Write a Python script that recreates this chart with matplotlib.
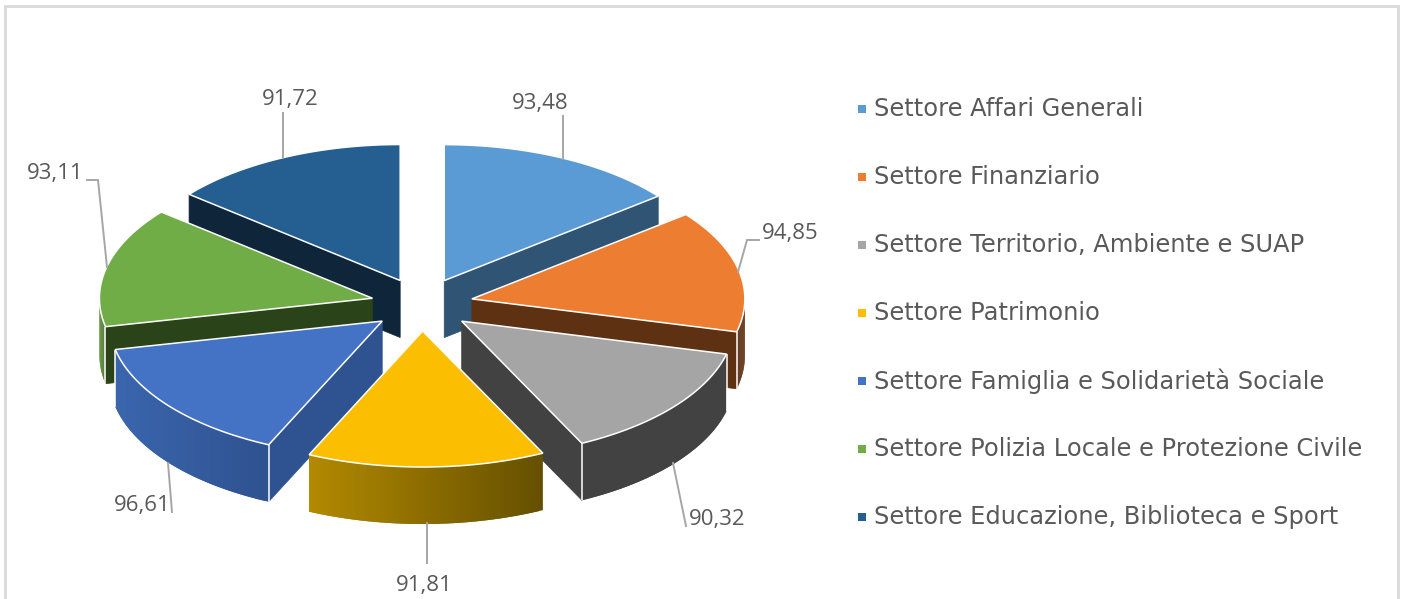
import numpy as np
import matplotlib
matplotlib.use("Agg")
import matplotlib.pyplot as plt
from matplotlib.colors import to_rgb
from matplotlib.patches import Polygon, Rectangle

settori = ["Settore Affari Generali", "Settore Finanziario",
           "Settore Territorio, Ambiente e SUAP", "Settore Patrimonio",
           "Settore Famiglia e Solidarietà Sociale",
           "Settore Polizia Locale e Protezione Civile",
           "Settore Educazione, Biblioteca e Sport"]
valori = [93.48, 94.85, 90.32, 91.81, 96.61, 93.11, 91.72]
colori = ["#5B9BD5", "#EC7D31", "#A5A5A5", "#FCBE00", "#4472C4", "#70AD47", "#255E91"]
pareti = ["#2F5474", "#5E3113", "#424242", "#665000", "#2F5290", "#2B4318", "#0F2539"]
# colore del bordo esterno, da sinistra a destra
bordo_sx = ["#2F5474", "#5E3113", "#424242", "#B38A00", "#3A66AE", "#5C9038", "#0F2539"]
bordo_dx = ["#2F5474", "#5E3113", "#424242", "#665000", "#2F5290", "#466E2C", "#0F2539"]

# geometria in pixel
cx, cy = 422, 304.5
rx, ry = 273, 136
esplosione = 51
schiacciamento = 0.52
spessore = 57

# etichette: testo (x, y, allineamento) e linea guida
pos_etichette = [(540, 104, "center"), (762, 233, "left"), (689, 519, "left"),
                 (424, 586, "center"), (142, 505, "center"), (55, 174, "center"),
                 (290, 99, "center")]
guide = [[(562.5, 159), (562.5, 116)],
         [(738, 272), (747, 240), (759, 240)],
         [(673, 463), (686, 526)],
         [(427, 523), (427, 563)],
         [(168, 463), (172, 512)],
         [(107, 267), (98, 180), (87, 180)],
         [(283, 158), (283, 113)]]
legenda_y = [109, 177, 245, 313, 381, 449, 517]

fig = plt.figure(figsize=(14.02, 5.99), dpi=100)
ax = fig.add_axes([0, 0, 1, 1])
ax.set_xlim(0, 1402)
ax.set_ylim(599, 0)
ax.axis("off")


def punto(x0, y0, ang):
    return x0 + rx * np.sin(ang), y0 - ry * np.cos(ang)


angoli = np.radians(np.cumsum([0] + valori) / sum(valori) * 360)
medi = (angoli[:-1] + angoli[1:]) / 2
ordine = np.argsort(-np.cos(medi))

for i in ordine:
    a0, a1 = angoli[i], angoli[i + 1]
    ax0 = cx + esplosione * np.sin(medi[i])
    ay0 = cy - esplosione * np.cos(medi[i]) * schiacciamento

    # pareti verso chi guarda
    for a, visibile in ((a0, np.sin(a0) < -1e-6), (a1, np.sin(a1) > 1e-6)):
        if visibile:
            px, py = punto(ax0, ay0, a)
            ax.add_patch(Polygon([(ax0, ay0), (px, py), (px, py + spessore), (ax0, ay0 + spessore)],
                                 closed=True, fc=pareti[i], ec=pareti[i], lw=0.5))

    # bordo esterno a strisce sovrapposte per la sfumatura
    b0, b1 = max(a0, np.pi / 2), min(a1, 3 * np.pi / 2)
    if b1 > b0:
        passi = np.linspace(b0, b1, 60)
        xs = punto(ax0, ay0, passi)[0]
        for k in range(len(passi) - 1):
            t = (xs[k] - xs.min()) / (xs.max() - xs.min())
            col = (1 - t) * np.array(to_rgb(bordo_sx[i])) + t * np.array(to_rgb(bordo_dx[i]))
            arco_k = passi[k:] if k >= len(passi) - 3 else passi[k:k + 3]
            x_k, y_k = punto(ax0, ay0, arco_k)
            ax.add_patch(Polygon(list(zip(x_k, y_k)) + list(zip(x_k[::-1], y_k[::-1] + spessore)),
                                 closed=True, fc=col, ec="none"))
        # spigolo bianco tra parete e bordo
        for a in (a0, a1):
            if np.pi / 2 < a < 3 * np.pi / 2 and i != 3:
                px, py = punto(ax0, ay0, a)
                ax.plot([px, px], [py, py + spessore], color="white", lw=1.1, solid_capstyle="butt")

    # faccia superiore
    arco = np.linspace(a0, a1, 100)
    ax_, ay_ = punto(ax0, ay0, arco)
    vertici = [(ax0, ay0)] + list(zip(ax_, ay_))
    ax.add_patch(Polygon(vertici, closed=True, fc=colori[i], ec="white", lw=1.1, joinstyle="miter"))

for i in range(len(valori)):
    x, y, al = pos_etichette[i]
    ax.text(x, y, f"{valori[i]:.2f}".replace(".", ","), ha=al, va="center",
            family="Open Sans", fontsize=16, color="#595959")
    g = np.array(guide[i])
    ax.plot(g[:, 0], g[:, 1], color="#A6A6A6", lw=1.4, solid_joinstyle="miter")

for i, nome in enumerate(settori):
    ax.add_patch(Rectangle((858, legenda_y[i] - 4), 7.5, 8, fc=colori[i], ec="none"))
    ax.text(874, legenda_y[i], nome, va="center", ha="left", family="DejaVu Sans",
            fontsize=17.4, color="#595959")

# cornice del grafico, tagliata in basso
ax.plot([5, 5, 1398, 1398], [599, 6, 6, 599], color="#D9D9D9", lw=2, solid_joinstyle="miter")

fig.savefig("out.png", dpi=100)
